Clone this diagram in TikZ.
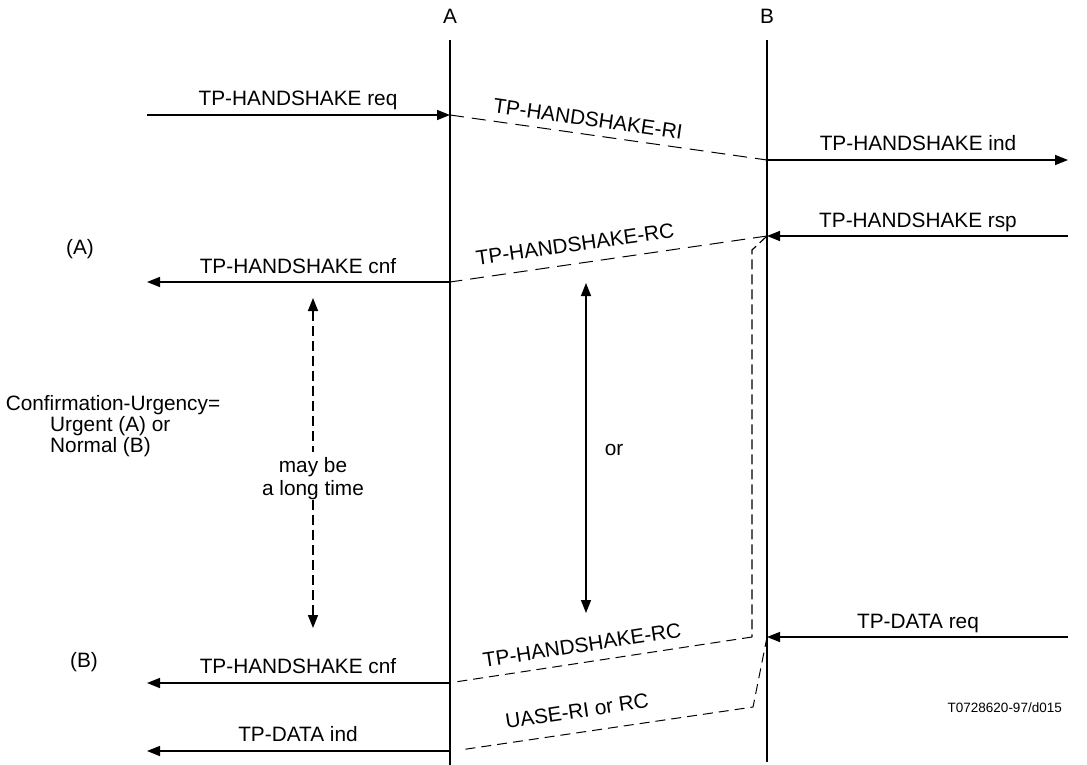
\documentclass[tikz,border=0pt]{standalone}
\usepackage{fontspec}
\setmainfont{Liberation Sans}
\usetikzlibrary{arrows.meta}
\begin{document}
\begin{tikzpicture}[x=1pt,y=-1pt,
  lbl/.style={font=\fontsize{20.8}{24}\selectfont, inner sep=0pt, anchor=base},
  rlbl/.style={font=\fontsize{20.8}{24}\selectfont, inner sep=0pt, anchor=center},
  small/.style={font=\fontsize{13.5}{16}\selectfont, inner sep=0pt, anchor=base},
  life/.style={line width=1.5pt},
  msg/.style={line width=1.5pt, -{Triangle[length=13pt,width=10pt]}},
  pdu/.style={line width=1pt, dash pattern=on 14pt off 8pt},
  pdus/.style={line width=1pt, dash pattern=on 10pt off 6pt},
  vdash/.style={line width=1.5pt, dash pattern=on 10pt off 5pt}
]
\useasboundingbox (0,0) rectangle (1087,765);
% lifelines
\node[lbl] (labA) at (450,24) {A};
\node[lbl] (labB) at (767,24) {B};
\coordinate (Atop) at (450,40); \coordinate (Abot) at (450,765);
\coordinate (Btop) at (767,40); \coordinate (Bbot) at (767,762);
\draw[life] (Atop) -- (Abot);
\draw[life] (Btop) -- (Bbot);
% coordinates
\coordinate (reqS) at (147,115); \coordinate (reqE) at (450,115);
\coordinate (indS) at (767,160); \coordinate (indE) at (1068,160);
\coordinate (rspS) at (1068,236); \coordinate (rspE) at (767,236);
\coordinate (cnfS) at (450,282); \coordinate (cnfE) at (147,282);
\coordinate (dreqS) at (1068,637); \coordinate (dreqE) at (767,637);
\coordinate (cnf2S) at (450,683); \coordinate (cnf2E) at (147,683);
\coordinate (dindS) at (450,751); \coordinate (dindE) at (147,751);
\coordinate (k1) at (752,250); \coordinate (k2) at (752,637);
\coordinate (rc2E) at (455,682);
\coordinate (u1) at (753,707); \coordinate (uE) at (460,750);
% primitives
\draw[msg] (reqS) -- (reqE);
\draw[msg] (indS) -- (indE);
\draw[msg] (rspS) -- (rspE);
\draw[msg] (cnfS) -- (cnfE);
\draw[msg] (dreqS) -- (dreqE);
\draw[msg] (cnf2S) -- (cnf2E);
\draw[msg] (dindS) -- (dindE);
\node[lbl] (treq) at (298,106) {TP-HANDSHAKE req};
\node[lbl] (tind) at (918,151) {TP-HANDSHAKE ind};
\node[lbl] (trsp) at (918,227) {TP-HANDSHAKE rsp};
\node[lbl] (tcnf) at (298,273) {TP-HANDSHAKE cnf};
\node[lbl] (tdreq) at (918,628) {TP-DATA req};
\node[lbl] (tcnf2) at (298,673) {TP-HANDSHAKE cnf};
\node[lbl] (tdind) at (298,741) {TP-DATA ind};
% PDUs
\draw[pdu] (reqE) -- (indS);
\node[rlbl, rotate=-8.1] (tri) at (588,119) {TP-HANDSHAKE-RI};
\draw[pdu] (rspE) -- (cnfS);
\node[rlbl, rotate=8.1] (trc) at (575,244) {TP-HANDSHAKE-RC};
\draw[vdash, line width=1.2pt] (rspE) -- (k1) -- (k2);
\draw[pdus] (k2) -- (rc2E);
\node[rlbl, rotate=8.6] (trc2) at (582,645) {TP-HANDSHAKE-RC};
\draw[pdus] (dreqE) -- (u1) -- (uE);
\node[rlbl, rotate=8.4] (tua) at (577,711) {UASE-RI or RC};
% left notes
\node[lbl] (nA) at (80,254) {(A)};
\node[lbl] (nB) at (84,667) {(B)};
\node[lbl] (c1) at (113,410) {Confirmation-Urgency=};
\node[lbl, anchor=base west] (c2) at (50,431) {Urgent (A) or};
\node[lbl, anchor=base west] (c3) at (50,452) {Normal (B)};
% time arrows
\coordinate (d1) at (313,298); \coordinate (d2) at (313,452);
\coordinate (d3) at (313,500); \coordinate (d4) at (313,628);
\draw[vdash, {Triangle[length=13pt,width=10pt]}-] (d1) -- (d2);
\draw[vdash, -{Triangle[length=13pt,width=10pt]}] (d3) -- (d4);
\node[rlbl] (m1) at (313,467) {may be};
\node[rlbl] (m2) at (313,490) {a long time};
\coordinate (s1) at (586,283); \coordinate (s2) at (586,613);
\draw[line width=1.5pt, {Triangle[length=13pt,width=10pt]}-{Triangle[length=13pt,width=10pt]}] (s1) -- (s2);
\node[rlbl] (tor) at (614,450) {or};
\node[small, anchor=base east] (ref) at (1062,712) {T0728620-97/d015};
\end{tikzpicture}
\end{document}
